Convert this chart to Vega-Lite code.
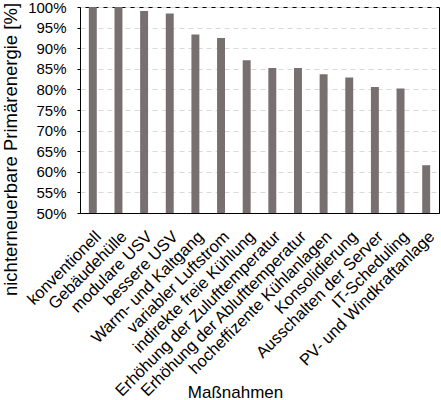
{
  "$schema": "https://vega.github.io/schema/vega-lite/v6.json",
  "width": 359,
  "height": 206,
  "autosize": {"type": "none"},
  "padding": {"left": 80, "top": 7, "right": 2, "bottom": 187},
  "background": "white",
  "config": {
    "font": "Liberation Sans",
    "view": {"stroke": "black", "strokeWidth": 1}
  },
  "data": {
    "values": [
      {"m": "konventionell", "v": 1.0},
      {"m": "Gebäudehülle", "v": 1.0},
      {"m": "modulare USV", "v": 0.99},
      {"m": "bessere USV", "v": 0.984},
      {"m": "Warm- und Kaltgang", "v": 0.933},
      {"m": "variabler Luftstrom", "v": 0.925},
      {"m": "indirekte freie Kühlung", "v": 0.871},
      {"m": "Erhöhung der Zulufttemperatur", "v": 0.852},
      {"m": "Erhöhung der Ablufttemperatur", "v": 0.852},
      {"m": "hocheffizente Kühlanlagen", "v": 0.837},
      {"m": "Konsolidierung", "v": 0.829},
      {"m": "Ausschalten der Server", "v": 0.806},
      {"m": "IT-Scheduling", "v": 0.802},
      {"m": "PV- und Windkraftanlage", "v": 0.616}
    ]
  },
  "mark": {"type": "bar", "color": "#787070"},
  "encoding": {
    "x": {
      "field": "m",
      "type": "nominal",
      "sort": null,
      "scale": {"paddingInner": 0.69, "paddingOuter": 0.345},
      "axis": {
        "title": "Maßnahmen",
        "titleFontSize": 17,
        "titleFontWeight": "normal",
        "titleColor": "black",
        "titleX": 155,
        "titleY": 184,
        "titleBaseline": "alphabetic",
        "titleAnchor": "middle",
        "titleAlign": "center",
        "labelAngle": -45,
        "labelFontSize": 16.5,
        "labelColor": "black",
        "labelPadding": 15,
        "ticks": false,
        "domainColor": "black",
        "labelLimit": 400
      }
    },
    "y": {
      "field": "v",
      "type": "quantitative",
      "scale": {"domain": [0.5, 1], "zero": false},
      "axis": {
        "title": "nichterneuerbare Primärenergie [%]",
        "titleFontSize": 18.5,
        "titleFontWeight": "normal",
        "titleColor": "black",
        "titleX": -63.5,
        "titleY": 142,
        "titleBaseline": "alphabetic",
        "titleAlign": "center",
        "titleAngle": -90,
        "format": ".0%",
        "values": [0.5, 0.55, 0.6, 0.65, 0.7, 0.75, 0.8, 0.85, 0.9, 0.95, 1.0],
        "labelFontSize": 15,
        "labelColor": "black",
        "labelPadding": 11,
        "tickSize": 3,
        "tickColor": "black",
        "domainColor": "black",
        "gridColor": "#d9d9d9",
        "gridDash": [5, 4]
      }
    },
    "y2": {"datum": 0.5}
  }
}
